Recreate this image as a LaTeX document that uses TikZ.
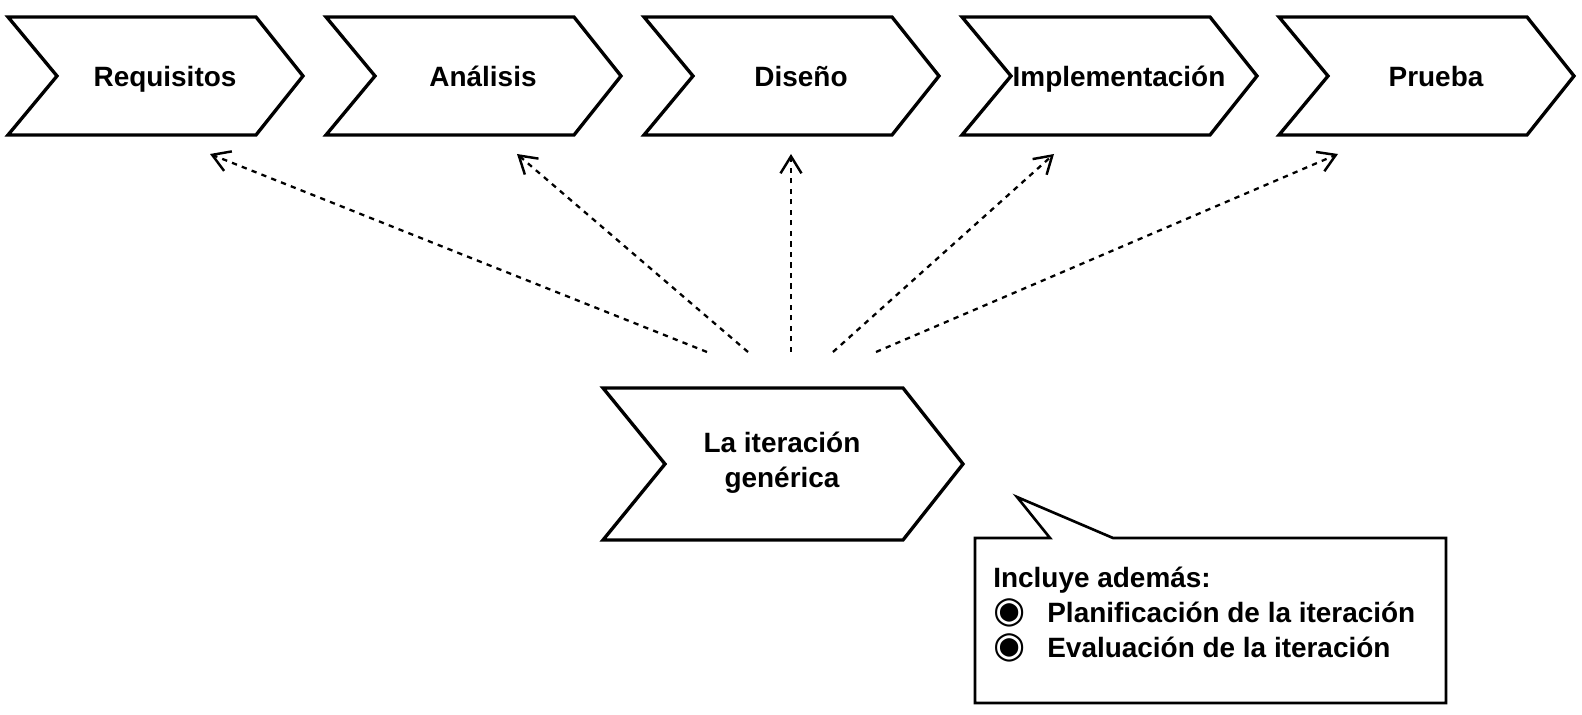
\documentclass[tikz,border=0pt]{standalone}
\usepackage{fontspec}
\setmainfont{Liberation Sans}
\newfontfamily\symfont{DejaVu Sans}
\usetikzlibrary{arrows.meta}

\tikzset{
  phase/.style={draw,line width=1.9pt,line join=miter},
  phasetext/.style={font=\bfseries\fontsize{15.9}{19.9}\selectfont,align=center,inner sep=0pt},
  dep/.style={line width=1.3pt,dash pattern=on 3pt off 3pt,-{Straight Barb[length=3.4mm,width=4.2mm,line width=1.4pt]}},
  notebox/.style={draw,line width=1.5pt,line join=miter}
}
\newcommand{\notebullet}{\makebox[1.08cm][l]{\symfont\fontsize{21}{20}\selectfont ◉}}

\begin{document}
\begin{tikzpicture}[x=0.02cm,y=-0.02cm]
  \useasboundingbox (0,0) rectangle (1582,715);
  % Phases of the process
  \foreach \n/\x/\t in {req/8/Requisitos, ana/326/Análisis, dis/644/Diseño, imp/962/Implementación, pru/1279/Prueba} {
    \draw[phase] (\x,17) -- ++(248,0) -- ++(47,59) -- ++(-47,59) -- ++(-248,0) -- ++(49,-59) -- cycle;
    \node[phasetext,anchor=base] (\n) at (\x+157,87) {\t};
  }
  % The generic iteration
  \draw[phase] (603,388) -- (903,388) -- (963,464) -- (903,540) -- (603,540) -- (665,464) -- cycle;
  \node[phasetext] (iter) at (782,463) {La iteración\\genérica};
  % Dashed arrows to every phase
  \foreach \n/\sx/\tx in {req/707/210, ana/748/517, dis/791/791, imp/833/1054, pru/876/1338} {
    \coordinate (\n-from) at (\sx,352);
    \coordinate (\n-to) at (\tx,154);
    \draw[dep] (\n-from) -- (\n-to);
  }
  % Callout
  \draw[notebox] (975,538) -- (1050,538) -- (1017,497) -- (1113,538) -- (1446,538) -- (1446,703) -- (975,703) -- cycle;
  \node[phasetext,align=left,anchor=north west] (incl) at (993,567) {Incluye además:\\
    \notebullet Planificación de la iteración\\
    \notebullet Evaluación de la iteración};
\end{tikzpicture}
\end{document}
